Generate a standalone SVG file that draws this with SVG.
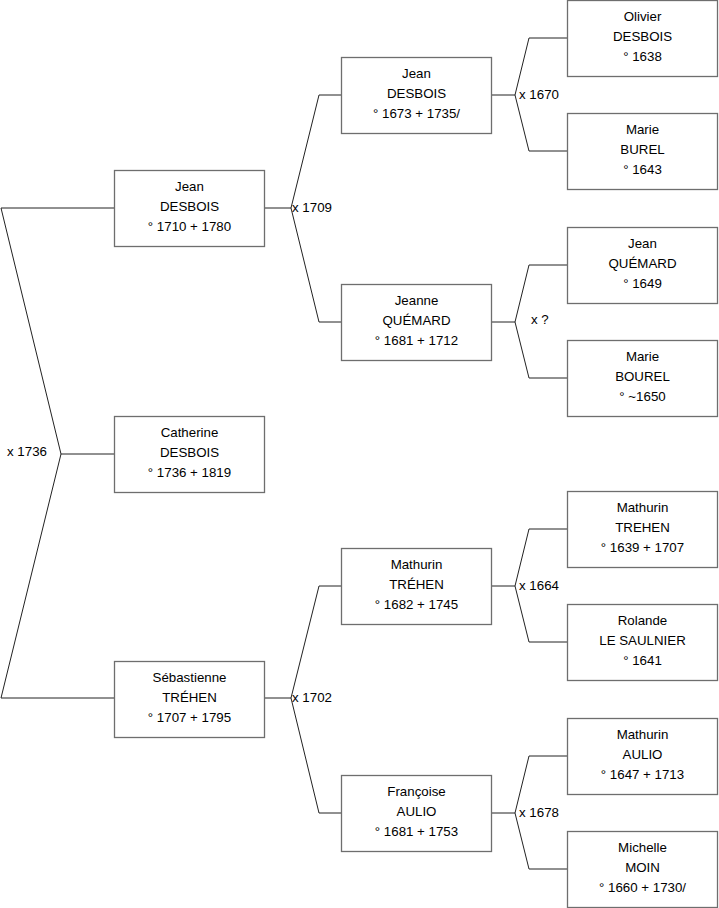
<svg xmlns="http://www.w3.org/2000/svg" width="719" height="908" viewBox="0 0 719 908">
<style>
.b{fill:#fff;stroke:#6e6e6e;stroke-width:1.3}
.t{font-family:"Liberation Sans",Arial,sans-serif;font-size:13.3px;fill:#000;text-anchor:middle}
.l{font-family:"Liberation Sans",Arial,sans-serif;font-size:13.3px;fill:#000}
.c{fill:none;stroke:#222;stroke-width:1}
</style>
<rect width="719" height="908" fill="#fff"/>
<g id="connectors">
<path class="c" d="M1,208H114M1,208L61,454L1,698H114M61,454H114"/>
<path class="c" d="M265,208H291L319,95H341M291,208L319,322H341"/>
<path class="c" d="M265,698H291L319,586H341M291,698L319,813H341"/>
<path class="c" d="M492,95H515L529,38H567M515,95L529,151H567"/>
<path class="c" d="M492,322H515L529,265H567M515,322L529,378H567"/>
<path class="c" d="M492,586H515L529,529H567M515,586L529,642H567"/>
<path class="c" d="M492,813H515L529,756H567M515,813L529,869H567"/>
<text class="l" x="7" y="456">x 1736</text>
<text class="l" x="292" y="212">x 1709</text>
<text class="l" x="292" y="702">x 1702</text>
<text class="l" x="519" y="99">x 1670</text>
<text class="l" x="531" y="324">x ?</text>
<text class="l" x="519" y="590">x 1664</text>
<text class="l" x="519" y="817">x 1678</text>
</g>
<g id="n1"><rect class="b" x="114.5" y="170.5" width="150" height="76"/><text class="t" x="189.5" y="191">Jean</text><text class="t" x="189.5" y="211">DESBOIS</text><text class="t" x="189.5" y="231">° 1710 + 1780</text></g>
<g id="n2"><rect class="b" x="114.5" y="416.5" width="150" height="76"/><text class="t" x="189.5" y="437">Catherine</text><text class="t" x="189.5" y="457">DESBOIS</text><text class="t" x="189.5" y="477">° 1736 + 1819</text></g>
<g id="n3"><rect class="b" x="114.5" y="661.5" width="150" height="76"/><text class="t" x="189.5" y="682">Sébastienne</text><text class="t" x="189.5" y="702">TRÉHEN</text><text class="t" x="189.5" y="722">° 1707 + 1795</text></g>
<g id="n4"><rect class="b" x="341.5" y="57.5" width="150" height="76"/><text class="t" x="416.5" y="78">Jean</text><text class="t" x="416.5" y="98">DESBOIS</text><text class="t" x="416.5" y="118">° 1673 + 1735/</text></g>
<g id="n5"><rect class="b" x="341.5" y="284.5" width="150" height="76"/><text class="t" x="416.5" y="305">Jeanne</text><text class="t" x="416.5" y="325">QUÉMARD</text><text class="t" x="416.5" y="345">° 1681 + 1712</text></g>
<g id="n6"><rect class="b" x="341.5" y="548.5" width="150" height="76"/><text class="t" x="416.5" y="569">Mathurin</text><text class="t" x="416.5" y="589">TRÉHEN</text><text class="t" x="416.5" y="609">° 1682 + 1745</text></g>
<g id="n7"><rect class="b" x="341.5" y="775.5" width="150" height="76"/><text class="t" x="416.5" y="796">Françoise</text><text class="t" x="416.5" y="816">AULIO</text><text class="t" x="416.5" y="836">° 1681 + 1753</text></g>
<g id="n8"><rect class="b" x="567.5" y="0.5" width="150" height="76"/><text class="t" x="642.5" y="21">Olivier</text><text class="t" x="642.5" y="41">DESBOIS</text><text class="t" x="642.5" y="61">° 1638</text></g>
<g id="n9"><rect class="b" x="567.5" y="113.5" width="150" height="76"/><text class="t" x="642.5" y="134">Marie</text><text class="t" x="642.5" y="154">BUREL</text><text class="t" x="642.5" y="174">° 1643</text></g>
<g id="n10"><rect class="b" x="567.5" y="227.5" width="150" height="76"/><text class="t" x="642.5" y="248">Jean</text><text class="t" x="642.5" y="268">QUÉMARD</text><text class="t" x="642.5" y="288">° 1649</text></g>
<g id="n11"><rect class="b" x="567.5" y="340.5" width="150" height="76"/><text class="t" x="642.5" y="361">Marie</text><text class="t" x="642.5" y="381">BOUREL</text><text class="t" x="642.5" y="401">° ~1650</text></g>
<g id="n12"><rect class="b" x="567.5" y="491.5" width="150" height="76"/><text class="t" x="642.5" y="512">Mathurin</text><text class="t" x="642.5" y="532">TREHEN</text><text class="t" x="642.5" y="552">° 1639 + 1707</text></g>
<g id="n13"><rect class="b" x="567.5" y="604.5" width="150" height="76"/><text class="t" x="642.5" y="625">Rolande</text><text class="t" x="642.5" y="645">LE SAULNIER</text><text class="t" x="642.5" y="665">° 1641</text></g>
<g id="n14"><rect class="b" x="567.5" y="718.5" width="150" height="76"/><text class="t" x="642.5" y="739">Mathurin</text><text class="t" x="642.5" y="759">AULIO</text><text class="t" x="642.5" y="779">° 1647 + 1713</text></g>
<g id="n15"><rect class="b" x="567.5" y="831.5" width="150" height="76"/><text class="t" x="642.5" y="852">Michelle</text><text class="t" x="642.5" y="872">MOIN</text><text class="t" x="642.5" y="892">° 1660 + 1730/</text></g>
</svg>
